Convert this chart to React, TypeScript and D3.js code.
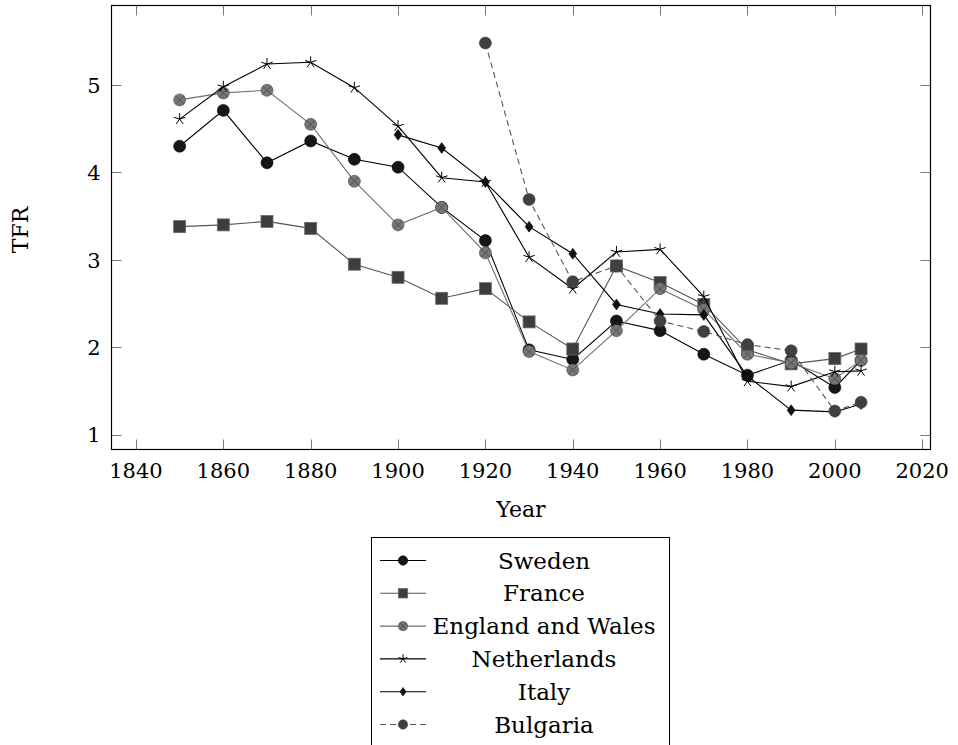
import * as d3 from "d3";
import React, { useEffect, useRef } from "react";

// TFR by decade
const years = [1850, 1860, 1870, 1880, 1890, 1900, 1910, 1920, 1930, 1940, 1950, 1960, 1970, 1980, 1990, 2000, 2006];
const sweden = [4.3, 4.71, 4.11, 4.36, 4.15, 4.06, 3.6, 3.22, 1.97, 1.86, 2.3, 2.19, 1.92, 1.68, 1.85, 1.54, 1.85];
const france = [3.38, 3.4, 3.44, 3.36, 2.95, 2.8, 2.56, 2.67, 2.29, 1.98, 2.93, 2.74, 2.49, 1.97, 1.81, 1.87, 1.98];
const englandWales = [4.83, 4.91, 4.94, 4.55, 3.9, 3.4, 3.6, 3.08, 1.95, 1.74, 2.19, 2.67, 2.43, 1.92, 1.82, 1.64, 1.85];
const netherlands = [4.61, 4.98, 5.24, 5.26, 4.97, 4.53, 3.94, 3.89, 3.03, 2.67, 3.09, 3.12, 2.58, 1.61, 1.55, 1.72, 1.73];
const italyYears = [1900, 1910, 1920, 1930, 1940, 1950, 1960, 1970, 1980, 1990, 2000, 2006];
const italy = [4.43, 4.28, 3.89, 3.38, 3.07, 2.49, 2.38, 2.37, 1.67, 1.28, 1.26, 1.35];
const bulgariaYears = [1920, 1930, 1940, 1950, 1960, 1970, 1980, 1990, 2000, 2006];
const bulgaria = [5.48, 3.69, 2.75, 2.93, 2.3, 2.18, 2.03, 1.96, 1.27, 1.37];

const xTicks = [1840, 1860, 1880, 1900, 1920, 1940, 1960, 1980, 2000, 2020];
const yTicks = [1, 2, 3, 4, 5];

type Mark = "circle" | "square" | "otimes" | "star" | "diamond";

const series = [
  { name: "Sweden", xs: years, ys: sweden, line: "#000", dash: null, mark: "circle" as Mark, fill: "#161616", stroke: "#000" },
  { name: "France", xs: years, ys: france, line: "#555", dash: null, mark: "square" as Mark, fill: "#3d3d3d", stroke: "#6a6a6a" },
  { name: "England and Wales", xs: years, ys: englandWales, line: "#707070", dash: null, mark: "otimes" as Mark, fill: "#777", stroke: "#4a4a4a" },
  { name: "Netherlands", xs: years, ys: netherlands, line: "#000", dash: null, mark: "star" as Mark, fill: "none", stroke: "#000" },
  { name: "Italy", xs: italyYears, ys: italy, line: "#000", dash: null, mark: "diamond" as Mark, fill: "#111", stroke: "#000" },
  { name: "Bulgaria", xs: bulgariaYears, ys: bulgaria, line: "#555", dash: "6,4", mark: "circle" as Mark, fill: "#404040", stroke: "#404040" },
];

const FONT = "'DejaVu Serif'";

function drawMark(g: d3.Selection<SVGGElement, unknown, null, undefined>, s: typeof series[number], k: number) {
  if (s.mark === "circle") {
    g.append("circle").attr("r", 6 * k).attr("fill", s.fill).attr("stroke", s.stroke).attr("stroke-width", 0.6);
  } else if (s.mark === "square") {
    g.append("rect").attr("x", -6 * k).attr("y", -6 * k).attr("width", 12 * k).attr("height", 12 * k)
      .attr("fill", s.fill).attr("stroke", s.stroke).attr("stroke-width", 0.8);
  } else if (s.mark === "otimes") {
    const r = 6 * k;
    const c = r * Math.SQRT1_2;
    g.append("circle").attr("r", r).attr("fill", s.fill).attr("stroke", s.stroke).attr("stroke-width", 0.6);
    g.append("path").attr("d", `M${-c},${-c}L${c},${c}M${-c},${c}L${c},${-c}`).attr("stroke", s.stroke).attr("stroke-width", 0.9);
  } else if (s.mark === "star") {
    const r = 6 * k;
    const d = d3.range(5).map((i) => {
      const a = -Math.PI / 2 + (i * 2 * Math.PI) / 5;
      return `M0,0L${r * Math.cos(a)},${r * Math.sin(a)}`;
    }).join("");
    g.append("path").attr("d", d).attr("stroke", s.stroke).attr("stroke-width", 1).attr("fill", "none");
  } else {
    const w = 4 * k, h = 5.5 * k;
    g.append("path").attr("d", `M0,${-h}L${w},0L0,${h}L${-w},0Z`).attr("fill", s.fill).attr("stroke", s.stroke).attr("stroke-width", 0.5);
  }
}

const App: React.FC = () => {
  const svgRef = useRef<SVGSVGElement | null>(null);

  useEffect(() => {
    if (!svgRef.current) return;
    const width = 958;
    const height = 745;
    const left = 111.5, right = 930.5, top = 5.5, bottom = 449.5;

    const x = d3.scaleLinear().domain([1834.4, 2021.9]).range([left, right]);
    const y = d3.scaleLinear().domain([0.83, 5.91]).range([bottom, top]);

    const svg = d3.select(svgRef.current);
    svg.selectAll("*").remove();
    svg.attr("width", width).attr("height", height).style("font-family", FONT);

    // ticks on all four sides, pointing inward
    const ticks = svg.append("g").attr("stroke", "#7a7a7a").attr("stroke-width", 1);
    xTicks.forEach((t) => {
      const px = Math.round(x(t)) + 0.5;
      ticks.append("line").attr("x1", px).attr("x2", px).attr("y1", bottom).attr("y2", bottom - 10);
      ticks.append("line").attr("x1", px).attr("x2", px).attr("y1", top).attr("y2", top + 10);
    });
    yTicks.forEach((t) => {
      const py = Math.round(y(t)) + 0.5;
      ticks.append("line").attr("x1", left).attr("x2", left + 10).attr("y1", py).attr("y2", py);
      ticks.append("line").attr("x1", right).attr("x2", right - 10).attr("y1", py).attr("y2", py);
    });

    svg.append("g").attr("font-size", 21).attr("text-anchor", "middle")
      .selectAll("text").data(xTicks).join("text")
      .attr("x", (d) => x(d)).attr("y", bottom + 28).text((d) => d);
    svg.append("g").attr("font-size", 21).attr("text-anchor", "end")
      .selectAll("text").data(yTicks).join("text")
      .attr("x", left - 11).attr("y", (d) => y(d) + 7.7).text((d) => d);

    svg.append("text").attr("x", (left + right) / 2).attr("y", 517).attr("text-anchor", "middle")
      .attr("font-size", 22).text("Year");
    svg.append("text").attr("transform", `translate(28,230) rotate(-90)`)
      .attr("text-anchor", "middle").attr("font-size", 22).text("TFR");

    // plots, each line then its marks
    const line = d3.line<[number, number]>().x((d) => x(d[0])).y((d) => y(d[1]));
    series.forEach((s) => {
      const pts = s.xs.map((v, i) => [v, s.ys[i]] as [number, number]);
      svg.append("path").attr("d", line(pts)).attr("fill", "none").attr("stroke", s.line)
        .attr("stroke-width", 1.1).attr("stroke-dasharray", s.dash);
      pts.forEach((p) => {
        const g = svg.append("g").attr("transform", `translate(${x(p[0])},${y(p[1])})`);
        drawMark(g, s, 1);
      });
    });

    // frame
    svg.append("rect").attr("x", left).attr("y", top).attr("width", right - left).attr("height", bottom - top)
      .attr("fill", "none").attr("stroke", "#000").attr("stroke-width", 1.2);

    // legend
    const lx = 371.5, ly = 537.5, lw = 298, rowH = 32.8;
    const legend = svg.append("g");
    legend.append("rect").attr("x", lx).attr("y", ly).attr("width", lw).attr("height", 23 + rowH * 5 + 26)
      .attr("fill", "#fff").attr("stroke", "#000").attr("stroke-width", 1);
    series.forEach((s, i) => {
      const cy = ly + 23 + i * rowH;
      legend.append("line").attr("x1", 380).attr("x2", 426).attr("y1", cy).attr("y2", cy)
        .attr("stroke", s.line).attr("stroke-width", 1.1).attr("stroke-dasharray", s.dash);
      const g = legend.append("g").attr("transform", `translate(403,${cy})`);
      drawMark(g, s, 0.78);
      legend.append("text").attr("x", 544).attr("y", cy + 8).attr("text-anchor", "middle")
        .attr("font-size", 23).text(s.name);
    });
  }, []);

  return <svg ref={svgRef} style={{ position: "absolute", left: 0, top: 0 }}></svg>;
};

export default App;
